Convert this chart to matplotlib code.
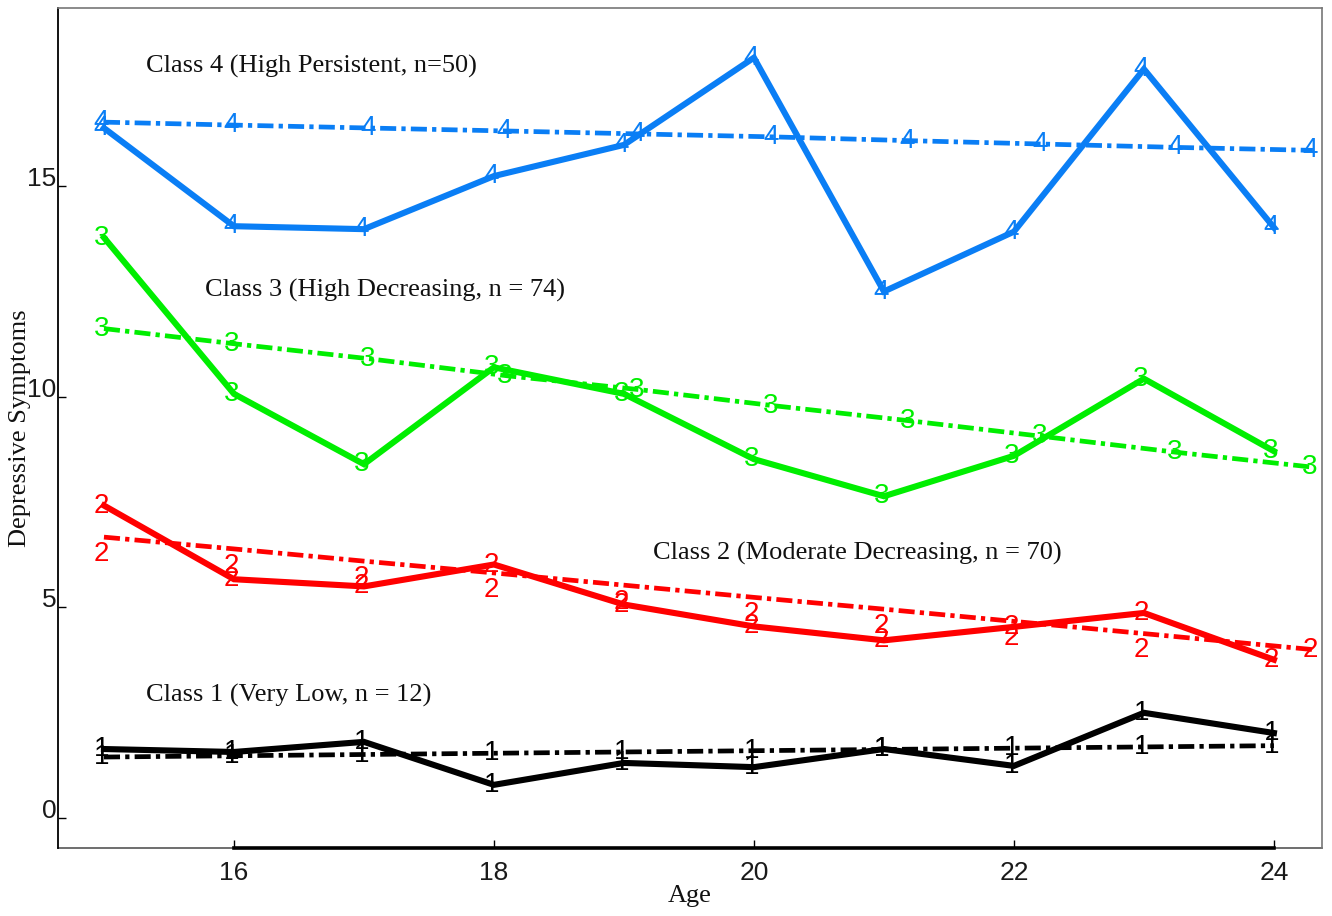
import matplotlib
matplotlib.use("Agg")
import matplotlib.pyplot as plt
from matplotlib.lines import Line2D

# ---------------- data ----------------
ages = [15, 16, 17, 18, 19, 20, 21, 22, 23, 24]

class1_obs = [1.64, 1.57, 1.81, 0.79, 1.31, 1.21, 1.64, 1.24, 2.50, 2.02]
class2_obs = [7.42, 5.67, 5.50, 6.02, 5.07, 4.55, 4.22, 4.54, 4.87, 3.76]
class3_obs = [13.78, 10.07, 8.40, 10.70, 10.07, 8.52, 7.64, 8.60, 10.43, 8.71]
class4_obs = [16.38, 14.05, 13.98, 15.24, 15.98, 18.05, 12.50, 13.92, 17.78, 14.02]

class1_fit_x = [15, 16, 17, 18, 19, 20, 21, 22, 23, 24]
class1_fit = [1.45, 1.48, 1.51, 1.54, 1.57, 1.60, 1.63, 1.66, 1.69, 1.72]
class2_fit_x = [15, 16, 17, 18, 19, 20, 21, 22, 23, 24.3]
class2_fit = [6.67, 6.39, 6.10, 5.82, 5.53, 5.24, 4.96, 4.67, 4.38, 4.00]
class3_fit_x = [15, 16.0, 17.05, 18.1, 19.12, 20.15, 21.2, 22.22, 23.26, 24.3]
class3_fit = [11.62, 11.26, 10.90, 10.50, 10.17, 9.79, 9.43, 9.06, 8.68, 8.33]
class4_fit_x = [15, 16.0, 17.05, 18.1, 19.12, 20.15, 21.2, 22.22, 23.26, 24.3]
class4_fit = [16.52, 16.45, 16.38, 16.31, 16.24, 16.17, 16.08, 16.00, 15.92, 15.85]

class_labels = ["Class 1 (Very Low, n = 12)",
                "Class 2 (Moderate Decreasing, n = 70)",
                "Class 3 (High Decreasing, n = 74)",
                "Class 4 (High Persistent, n=50)"]
label_x = [15.32, 19.22, 15.78, 15.32]
label_y = [2.92, 6.29, 12.53, 17.83]
markers = ["1", "2", "3", "4"]
colors = ["#000000", "#FF0000", "#00EE00", "#0A7EF5"]

xticks = [16, 18, 20, 22, 24]
yticks = [0, 5, 10, 15]
xlabel = "Age"
ylabel = "Depressive Symptoms"

# ---------------- figure ----------------
fig = plt.figure(figsize=(13.32, 9.16), dpi=100)
ax = fig.add_axes([0.0435, 0.0742, 0.949, 0.9171])
ax.set_xlim(14.646, 24.37)
ax.set_ylim(-0.71, 19.23)

serif = ["Liberation Serif", "DejaVu Serif"]
sans = ["Liberation Sans", "DejaVu Sans"]

obs = [class1_obs, class2_obs, class3_obs, class4_obs]
fits_x = [class1_fit_x, class2_fit_x, class3_fit_x, class4_fit_x]
fits = [class1_fit, class2_fit, class3_fit, class4_fit]

dash_style = (0, (3.4, 1.1, 0.9, 1.1))
for i in range(4):
    c = colors[i]
    ax.plot(fits_x[i], fits[i], color=c, lw=3.4, linestyle=dash_style,
            dash_capstyle="butt", zorder=2)
    ax.plot(ages, obs[i], color=c, lw=4.4, solid_joinstyle="miter", zorder=3)
    for x, y in zip(ages, obs[i]):
        ax.annotate(markers[i], (x, y), xytext=(-2, 0), textcoords="offset points",
                    ha="center", va="center", color=c, fontsize=20,
                    family=sans, zorder=4)
    n = len(fits_x[i])
    for k, (x, y) in enumerate(zip(fits_x[i], fits[i])):
        dy = 0
        if i == 1 and k < n - 1:
            dy = -12
        ax.annotate(markers[i], (x, y), xytext=(-2, dy), textcoords="offset points",
                    ha="center", va="center", color=c, fontsize=20,
                    family=sans, zorder=4)
    ax.text(label_x[i], label_y[i], class_labels[i], ha="left", va="center",
            fontsize=19, family=serif, color="#111111")

# axes styling
ax.set_xticks(xticks)
ax.set_yticks(yticks)
ax.tick_params(direction="in", length=6, width=1, colors="black",
               labelsize=19)
ax.tick_params(axis="x", pad=9)
ax.tick_params(axis="y", pad=1)
for lab in ax.get_xticklabels() + ax.get_yticklabels():
    lab.set_family(sans)
    lab.set_color("#1a1a1a")
for lab in ax.get_yticklabels():
    lab.set_va("baseline")

for s in ["top", "right"]:
    ax.spines[s].set_color("#777777")
    ax.spines[s].set_linewidth(1.2)
ax.spines["left"].set_color("black")
ax.spines["left"].set_linewidth(1.3)
ax.spines["bottom"].set_bounds(16, 24)
ax.spines["bottom"].set_linewidth(2.6)
ax.spines["bottom"].set_color("black")
ax.add_line(Line2D([0, 1], [0, 0], transform=ax.transAxes, color="#555555",
                   lw=1.2, clip_on=False, zorder=1))

ax.set_xlabel(xlabel, family=serif, fontsize=19, labelpad=0, color="#111111")
ax.set_ylabel(ylabel, family=serif, fontsize=19, color="#111111")
ax.yaxis.set_label_coords(-0.021, 0.5)

fig.savefig("out.png", dpi=100)
